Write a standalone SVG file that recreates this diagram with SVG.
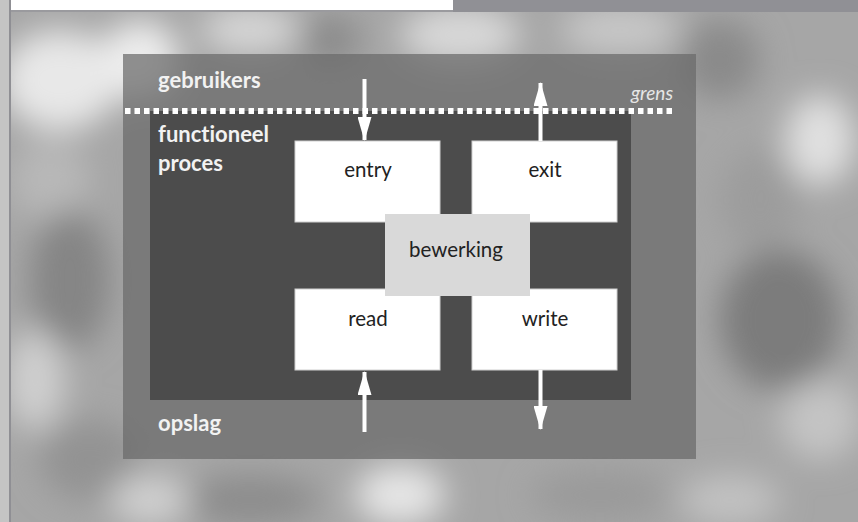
<svg xmlns="http://www.w3.org/2000/svg" width="858" height="522" viewBox="0 0 858 522">
<defs>
<filter id="blur" x="-30%" y="-30%" width="160%" height="160%"><feGaussianBlur stdDeviation="16"/></filter>
<clipPath id="photo"><rect x="11" y="12" width="847" height="510"/></clipPath>
<marker id="ah" viewBox="0 0 24 14" refX="23" refY="7" markerWidth="24" markerHeight="14" markerUnits="userSpaceOnUse" orient="auto"><path d="M0,0 L24,7 L0,14 Z" fill="#ffffff"/></marker>
<style>
.lbl{font-family:Lato,"Open Sans","Liberation Sans",sans-serif;font-weight:bold;font-size:22px;fill:#f2f2f2;font-variant-ligatures:none}
.box{fill:#ffffff;stroke:#cfcfcf;stroke-width:1}
.btxt{font-family:Lato,"Open Sans","Liberation Sans",sans-serif;font-size:20.5px;fill:#222222;text-anchor:middle}
.arrow{stroke:#ffffff;stroke-width:4;fill:none}
</style>
</defs>
<rect x="0" y="0" width="858" height="522" fill="#c4c4c4"/>
<g clip-path="url(#photo)">
<rect x="0" y="0" width="858" height="522" fill="#a6a6a6"/>
<g filter="url(#blur)">
<ellipse cx="60" cy="80" rx="60" ry="50" fill="#e8e8e8"/>
<ellipse cx="140" cy="60" rx="40" ry="40" fill="#ededed"/>
<ellipse cx="250" cy="30" rx="50" ry="25" fill="#d6d6d6"/>
<ellipse cx="330" cy="40" rx="30" ry="25" fill="#8a8a8a"/>
<ellipse cx="460" cy="35" rx="60" ry="30" fill="#d8d8d8"/>
<ellipse cx="620" cy="30" rx="60" ry="25" fill="#c8c8c8"/>
<ellipse cx="720" cy="60" rx="40" ry="40" fill="#8a8a8a"/>
<ellipse cx="820" cy="140" rx="35" ry="45" fill="#e0e0e0"/>
<ellipse cx="760" cy="200" rx="40" ry="50" fill="#9c9c9c"/>
<ellipse cx="50" cy="180" rx="40" ry="40" fill="#b8b8b8"/>
<ellipse cx="70" cy="280" rx="40" ry="70" fill="#858585"/>
<ellipse cx="35" cy="380" rx="30" ry="50" fill="#cfcfcf"/>
<ellipse cx="90" cy="460" rx="50" ry="40" fill="#939393"/>
<ellipse cx="780" cy="320" rx="60" ry="70" fill="#7c7c7c"/>
<ellipse cx="820" cy="420" rx="40" ry="40" fill="#c4c4c4"/>
<ellipse cx="400" cy="495" rx="45" ry="30" fill="#e6e6e6"/>
<ellipse cx="250" cy="500" rx="70" ry="25" fill="#8c8c8c"/>
<ellipse cx="150" cy="500" rx="40" ry="25" fill="#d0d0d0"/>
<ellipse cx="600" cy="495" rx="70" ry="25" fill="#9a9a9a"/>
<ellipse cx="730" cy="500" rx="50" ry="25" fill="#c2c2c2"/>
</g>
</g>
<rect x="9" y="0" width="2" height="522" fill="#8f8f94"/>
<rect x="11" y="0" width="442" height="10" fill="#ffffff"/>
<rect x="11" y="10" width="442" height="2" fill="#9a9a9e"/>
<rect x="453" y="0" width="405" height="12" fill="#909095"/>

<g id="gebruikers-opslag">
<rect x="123" y="54" width="573" height="405" fill="#6a6a6a" fill-opacity="0.72"/>
<text class="lbl" x="158" y="88">gebruikers</text>
<text class="lbl" x="158" y="431">opslag</text>
</g>
<g id="functioneel-proces">
<rect x="150" y="111" width="481" height="289" fill="#444444" fill-opacity="0.85"/>
<text class="lbl" x="158" y="142">functioneel</text>
<text class="lbl" x="158" y="171">proces</text>
</g>
<g id="grens">
<line x1="125" y1="111" x2="672" y2="111" stroke="#ffffff" stroke-width="6" stroke-dasharray="5.5 4"/>
<text x="673" y="100" text-anchor="end" font-family="Lato,'Open Sans','Liberation Sans',sans-serif" font-style="italic" font-size="19" fill="#e6e6e6">grens</text>
</g>
<g id="entry">
<rect class="box" x="295" y="141" width="145" height="81"/>
<text class="btxt" x="368" y="177">entry</text>
</g>
<g id="exit">
<rect class="box" x="472" y="141" width="145" height="81"/>
<text class="btxt" x="545" y="177">exit</text>
</g>
<g id="read">
<rect class="box" x="295" y="289" width="145" height="81"/>
<text class="btxt" x="368" y="326">read</text>
</g>
<g id="write">
<rect class="box" x="472" y="289" width="145" height="81"/>
<text class="btxt" x="545" y="326">write</text>
</g>
<g id="bewerking">
<rect x="385" y="214" width="145" height="82" fill="#d9d9d9"/>
<text class="btxt" x="456" y="257">bewerking</text>
</g>
<g id="connectors">
<line class="arrow" x1="364.5" y1="79" x2="364.5" y2="140" marker-end="url(#ah)"/>
<line class="arrow" x1="540.5" y1="141" x2="540.5" y2="83" marker-end="url(#ah)"/>
<line class="arrow" x1="364.5" y1="432" x2="364.5" y2="372" marker-end="url(#ah)"/>
<line class="arrow" x1="540.5" y1="370" x2="540.5" y2="429" marker-end="url(#ah)"/>
</g>
</svg>
